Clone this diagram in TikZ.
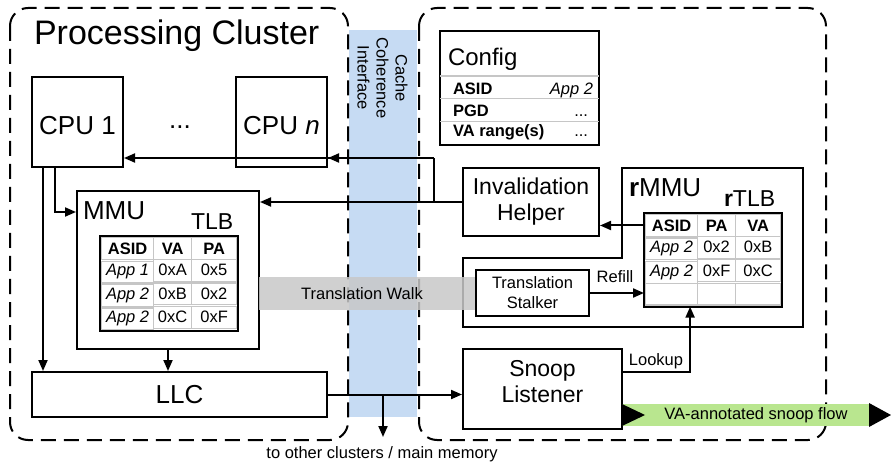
\documentclass[tikz,border=0pt]{standalone}
\usepackage{fontspec}
\setmainfont{Liberation Sans}
\usepackage{xcolor}
\usepackage{tikz}
\usetikzlibrary{matrix,arrows.meta}

\definecolor{coherence}{HTML}{C6DBF3}
\definecolor{walkgray}{HTML}{C8C8C8}
\definecolor{flowgreen}{HTML}{B9E68F}

\begin{document}
\begin{tikzpicture}[x=1pt,y=-1pt,line width=2pt,>={Triangle[length=11pt,width=9pt]},
	box/.style={draw, fill=white, inner sep=0pt, align=center},
	cluster/.style={draw, dash pattern=on 15pt off 8pt, rounded corners=18pt},
	huge/.style={font=\fontsize{34}{37}\selectfont},
	big/.style={font=\fontsize{26}{29}\selectfont},
	mid/.style={font=\fontsize{23}{26}\selectfont},
	small/.style={font=\fontsize{16.5}{20}\selectfont},
	rowline/.style={draw=gray!45, line width=1.2pt},
	tlbtab/.style={matrix of nodes, anchor=north west, inner sep=0pt,
		nodes={draw=gray!45, line width=1.2pt, minimum height=21.8pt, inner sep=0pt, small},
		column 1/.style={nodes={minimum width=52pt}},
		column 2/.style={nodes={minimum width=38pt}},
		column 3/.style={nodes={minimum width=45pt}},
		nodes in empty cells, column sep=-1.2pt, row sep=-1.2pt}]
	\useasboundingbox (0,0) rectangle (891,462);

	% coherence interface band
	\fill[coherence] (349,30) rectangle (417,417);
	\node[small, rotate=-90, align=center, font=\fontsize{16.5}{19}\selectfont] (cci) at (382.5,78) {Cache\\Coherence\\Interface};

	% clusters
	\draw[cluster] (10,8) rectangle (348,440);
	\draw[cluster] (419,8) rectangle (826,440);
	\node[huge, anchor=base west, inner sep=0pt] (title) at (33,45) {Processing Cluster};

	% cpus
	\node[box, big, minimum width=91pt, minimum height=90pt, text height=26pt] (cpu1) at (77.5,122) {CPU 1};
	\node[box, big, minimum width=91pt, minimum height=90pt, text height=26pt] (cpun) at (281.5,122) {CPU \textit{n}};
	\node[big, inner sep=0pt] (dots) at (180,127) {...};

	% mmu
	\node[box, minimum width=182pt, minimum height=158pt] (mmu) at (168,270) {};
	\node[big, anchor=base west, inner sep=0pt] (mmulbl) at (82,220) {MMU};
	\node[mid, anchor=base west, inner sep=0pt] (tlblbl) at (190,230) {TLB};
	\matrix(tlb)[tlbtab] at (100,236) {
		\textbf{ASID} & \textbf{VA} & \textbf{PA}\\
		\textit{App 1} & 0xA & 0x5\\
		\textit{App 2} & 0xB & 0x2\\
		\textit{App 2} & 0xC & 0xF\\
	};
	\draw (tlb.north west) rectangle (tlb.south east);

	% llc
	\node[box, big, minimum width=295pt, minimum height=45pt] (llc) at (179.5,394.5) {LLC};

	\draw[->] ([xshift=-34.5pt]cpu1.south) -- ([xshift=-34.5pt]cpu1.south |- llc.north);
	\draw[->] ([xshift=-22.5pt]cpu1.south) |- ([yshift=58pt]mmu.west);
	\draw[->] (mmu.south) -- (mmu.south |- llc.north);

	% config
	\node[box, minimum width=159pt, minimum height=114pt] (config) at (519.5,88) {};
	\node[font=\fontsize{24}{27}\selectfont, anchor=base west, inner sep=0pt] (cfgtitle) at (447,66) {Config};
	\foreach \d in {46,68.7,91.3}
		\draw[rowline] ([yshift=-\d pt, xshift=1pt]config.north west) -- ([yshift=-\d pt, xshift=-1pt]config.north east);
	\node[small, anchor=base west, inner sep=0pt] (asidkey) at (452,95) {\textbf{ASID}};
	\node[small, anchor=base east, inner sep=0pt] (asidval) at (594,95) {\textit{App 2}};
	\node[small, anchor=base west, inner sep=0pt] (pgdkey) at (452,117) {\textbf{PGD}};
	\node[small, anchor=base east, inner sep=0pt] (pgdval) at (589,117) {...};
	\node[small, anchor=base west, inner sep=0pt] (rangekey) at (452,136.5) {\textbf{VA range(s)}};
	\node[small, anchor=base east, inner sep=0pt] (rangeval) at (589,136.5) {...};

	% invalidation helper
	\node[box, mid, minimum width=136pt, minimum height=68pt] (inval) at (531,202) {Invalidation\\Helper};
	\coordinate (branch) at (434,202);
	\coordinate (turn) at (434,158);
	\draw[->] (inval.west) -- (mmu.east |- inval.west);
	\draw (branch) -- (turn);
	\draw[->] (turn) -- (cpu1.east |- turn);
	\draw[->] (turn) -- (cpun.east |- turn);

	% rmmu
	\draw (622,168) -- (803,168) -- (803,327) -- (463,327) -- (463,258) -- (622,258) -- cycle;
	\node[big, anchor=base west, inner sep=0pt] (rmmulbl) at (628,197) {\textbf{r}MMU};
	\node[mid, anchor=base west, inner sep=0pt] (rtlblbl) at (723,207) {\textbf{r}TLB};
	\matrix(rtlb)[tlbtab] at (644,213) {
		\textbf{ASID} & \textbf{PA} & \textbf{VA}\\
		\textit{App 2} & 0x2 & 0xB\\
		\textit{App 2} & 0xF & 0xC\\
		& & \\
	};
	\draw (rtlb.north west) rectangle (rtlb.south east);
	\draw[->] (rtlb-1-1.west) -- (inval.east |- rtlb-1-1.west);

	% translation walk
	\fill[walkgray, fill opacity=0.85] (259,277) rectangle (476,310);
	\node[small] (walk) at (362,293.5) {Translation Walk};
	\node[box, small, minimum width=113pt, minimum height=46pt, font=\fontsize{16.5}{20}\selectfont] (stalker) at (532.5,293) {Translation\\Stalker};
	\draw[->] (stalker.east) -- (rtlb.west |- stalker.east);
	\node[small, anchor=base, inner sep=0pt] (refill) at (615,283) {Refill};

	% snoop listener
	\node[box, minimum width=159pt, minimum height=80pt,
		label={[mid, align=center, yshift=7pt]center:{Snoop\\Listener}}] (snoop) at (542.5,389) {};
	\draw[->] ([yshift=17pt]snoop.east) -| ([xshift=-23pt]rtlb.south);
	\node[small, anchor=base, inner sep=0pt] (lookup) at (656,365) {Lookup};

	\coordinate (split) at (383,394.5);
	\coordinate (mem) at (383,437);
	\draw[->] (llc.east) -- (snoop.west |- llc.east);
	\draw[->] (split) -- (mem);
	\node[small, anchor=base, inner sep=0pt] (memlbl) at (382,458) {to other clusters / main memory};

	% snoop flow
	\fill[flowgreen] (622,404) rectangle (869,426);
	\node[small] (flow) at (756,415) {VA-annotated snoop flow};
	\fill (622,404) -- (645,415) -- (622,426) -- cycle;
	\fill (869,403) -- (891,415) -- (869,427) -- cycle;
\end{tikzpicture}
\end{document}
